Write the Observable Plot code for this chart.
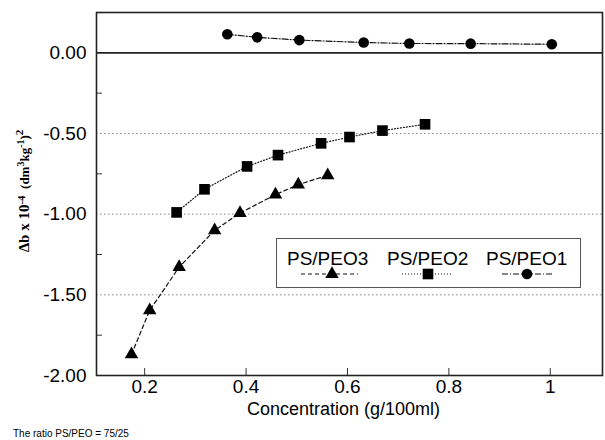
<!DOCTYPE html>
<html><head><meta charset="utf-8">
<script src="https://cdn.jsdelivr.net/npm/d3@7"></script>
<script src="https://cdn.jsdelivr.net/npm/@observablehq/plot@0.6"></script>
<style>
body{margin:0;background:#fff;font-family:"Liberation Sans",Arial,sans-serif}
#wrap{position:relative;width:605px;height:440px;overflow:hidden;background:#fff}
#caption{font-size:10px;margin:3px 0 0 13px;color:#000;line-height:11px}
#legend{position:absolute;left:276px;top:238px;width:303px;height:48px;border:1px solid #555;background:#fff}
</style>
</head><body><div id="wrap"></div>
<script>
// Series: PS/PEO3 (triangles)
const conc3 = [0.174, 0.210, 0.268, 0.338, 0.388, 0.458, 0.503, 0.561];
const db3   = [-1.869, -1.596, -1.328, -1.100, -0.993, -0.879, -0.817, -0.759];
// Series: PS/PEO2 (squares)
const conc2 = [0.263, 0.318, 0.402, 0.463, 0.548, 0.604, 0.669, 0.753];
const db2   = [-0.989, -0.846, -0.704, -0.634, -0.561, -0.522, -0.482, -0.443];
// Series: PS/PEO1 (circles)
const conc1 = [0.363, 0.422, 0.505, 0.632, 0.722, 0.843, 1.003];
const db1   = [0.115, 0.096, 0.079, 0.064, 0.058, 0.057, 0.053];

const seriesNames = ["PS/PEO3", "PS/PEO2", "PS/PEO1"];
const xTicks = [0.2, 0.4, 0.6, 0.8, 1];
const yTicks = [0, -0.5, -1, -1.5, -2];
const yMinor = [-0.25, -0.75, -1.25, -1.75];
const yGrid = [-0.5, -1, -1.5];
const xTitle = "Concentration (g/100ml)";
const captionText = "The ratio PS/PEO = 75/25";

const pts = (xs, ys) => xs.map((x, i) => ({x, y: ys[i]}));
const s3 = pts(conc3, db3), s2 = pts(conc2, db2), s1 = pts(conc1, db1);

const font = '"Liberation Sans", Arial, Helvetica, sans-serif';

const svg = Plot.plot({
  width: 605, height: 425,
  marginTop: 12, marginBottom: 50, marginLeft: 96, marginRight: 3,
  x: {domain: [0.105, 1.103]},
  y: {domain: [-2, 0.25]},
  style: {fontFamily: font, fontSize: "19px", color: "#000", background: "#fff"},
  marks: [
    Plot.gridY(yGrid, {stroke: "#888", strokeOpacity: 1, strokeDasharray: "1.5,2.5"}),
    Plot.ruleY([0], {stroke: "#222", strokeWidth: 1.6}),
    Plot.tickX(xTicks, {x: d => d, insetTop: 356, stroke: "#333"}),
    Plot.tickY(yMinor, {y: d => d, insetRight: 500, stroke: "#333"}),
    Plot.axisX(xTicks, {tickSize: 0, tickPadding: 4, tickFormat: d => String(d), label: null}),
    Plot.axisY(yTicks, {tickSize: 0, tickPadding: 10, tickFormat: d => d.toFixed(2), label: null}),
    Plot.text([xTitle], {frameAnchor: "bottom", dy: 39, dx: -6, fontSize: 18}),
    Plot.line(s3, {x: "x", y: "y", stroke: "#111", strokeWidth: 1.2, strokeDasharray: "4,3"}),
    Plot.line(s2, {x: "x", y: "y", stroke: "#111", strokeWidth: 1.2, strokeDasharray: "1,2"}),
    Plot.line(s1, {x: "x", y: "y", stroke: "#111", strokeWidth: 1.2, strokeDasharray: "6,2,1,2"}),
    Plot.dot(s3, {x: "x", y: "y", symbol: "triangle", r: 5, fill: "#000", stroke: "none"}),
    Plot.dot(s2, {x: "x", y: "y", symbol: "square", r: 6, fill: "#000", stroke: "none"}),
    Plot.dot(s1, {x: "x", y: "y", symbol: "circle", r: 5.3, fill: "#000", stroke: "none"}),
    Plot.frame({stroke: "#222", strokeWidth: 1.6})
  ]
});

// Y axis title with superscripts
const yt = d3.select(svg).append("text")
  .attr("transform", "translate(29,191) rotate(-90)")
  .attr("text-anchor", "middle")
  .style("font-family", '"Liberation Serif", "Times New Roman", serif')
  .style("font-weight", "bold")
  .style("font-size", "15px")
  .attr("fill", "#000");
yt.append("tspan").text("\u0394b x 10");
yt.append("tspan").attr("dy", "-4").style("font-size", "11px").text("-4");
yt.append("tspan").attr("dy", "4").style("font-size", "13px").text("\u00a0 (dm");
yt.append("tspan").attr("dy", "-5").style("font-size", "10px").text("3");
yt.append("tspan").attr("dy", "5").style("font-size", "13px").text("kg");
yt.append("tspan").attr("dy", "-5").style("font-size", "10px").text("-1");
yt.append("tspan").attr("dy", "5").style("font-size", "13px").text(")");
yt.append("tspan").attr("dy", "-6").style("font-size", "11px").text("2");

const wrap = document.getElementById("wrap");
wrap.appendChild(svg);

// Legend (inside plot area, overlaid)
const legend = document.createElement("div");
legend.id = "legend";
const lsvg = d3.create("svg").attr("width", 303).attr("height", 48)
  .style("font-family", font).style("font-size", "19px");
const items = [
  {name: seriesNames[0], tx: 10, lx1: 24, lx2: 81, mx: 55, dash: "4,3", sym: d3.symbolTriangle, size: 5*5*Math.PI},
  {name: seriesNames[1], tx: 110, lx1: 125, lx2: 174, mx: 151, dash: "1,2", sym: d3.symbolSquare, size: 6*6*Math.PI},
  {name: seriesNames[2], tx: 209, lx1: 225, lx2: 276, mx: 250, dash: "6,2,1,2", sym: d3.symbolCircle, size: 5.3*5.3*Math.PI}
];
for (const it of items) {
  lsvg.append("text").attr("x", it.tx).attr("y", 26).attr("fill", "#000").text(it.name);
  lsvg.append("line").attr("x1", it.lx1).attr("x2", it.lx2).attr("y1", 35).attr("y2", 35)
    .attr("stroke", "#111").attr("stroke-width", 1.2).attr("stroke-dasharray", it.dash);
  lsvg.append("path").attr("d", d3.symbol(it.sym, it.size)()).attr("transform", `translate(${it.mx},35)`).attr("fill", "#000");
}
legend.appendChild(lsvg.node());
wrap.appendChild(legend);

const cap = document.createElement("div");
cap.id = "caption";
cap.textContent = captionText;
wrap.appendChild(cap);
</script>
</body></html>
